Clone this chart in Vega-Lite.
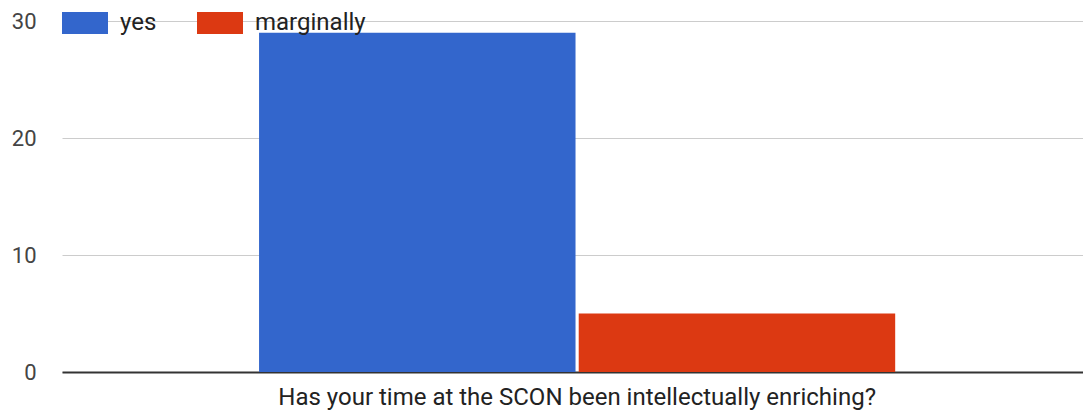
{
  "$schema": "https://vega.github.io/schema/vega-lite/v6.json",
  "width": 1021,
  "height": 351,
  "autosize": {"type": "none"},
  "padding": {"left": 62, "top": 21, "right": 0, "bottom": 41},
  "background": "white",
  "data": {
    "values": [
      {"question": "Has your time at the SCON been intellectually enriching?", "answer": "yes", "count": 29},
      {"question": "Has your time at the SCON been intellectually enriching?", "answer": "marginally", "count": 5}
    ]
  },
  "config": {
    "view": {"stroke": null},
    "font": "Roboto"
  },
  "mark": {"type": "bar"},
  "encoding": {
    "x": {
      "field": "question",
      "type": "nominal",
      "scale": {"paddingOuter": 0.3025, "paddingInner": 0, "align": 0.512},
      "axis": {
        "title": null,
        "labelAngle": 0,
        "ticks": false,
        "domainColor": "#333333",
        "domainWidth": 2,
        "labelFontSize": 24,
        "labelColor": "#222222",
        "labelPadding": 13,
        "labelLimit": 0
      }
    },
    "xOffset": {
      "field": "answer",
      "type": "nominal",
      "sort": ["yes", "marginally"],
      "scale": {"paddingInner": 0.01, "paddingOuter": 0}
    },
    "y": {
      "field": "count",
      "type": "quantitative",
      "scale": {"domain": [0, 30], "nice": false},
      "axis": {
        "title": null,
        "values": [0, 10, 20, 30],
        "domain": false,
        "ticks": false,
        "gridColor": "#cccccc",
        "gridWidth": 1,
        "labelFontSize": 22,
        "labelColor": "#444444",
        "labelPadding": 26
      }
    },
    "color": {
      "field": "answer",
      "type": "nominal",
      "scale": {"domain": ["yes", "marginally"], "range": ["#3366cc", "#dc3912"]},
      "legend": {
        "title": null,
        "orient": "none",
        "direction": "horizontal",
        "legendX": 0,
        "legendY": -21,
        "symbolType": "M-1,-0.48H1V0.48H-1Z",
        "symbolSize": 2116,
        "symbolStrokeWidth": 0,
        "symbolOpacity": 1,
        "labelFontSize": 24,
        "labelColor": "#222222",
        "labelOffset": 12,
        "columnPadding": 40,
        "labelLimit": 0
      }
    }
  }
}
